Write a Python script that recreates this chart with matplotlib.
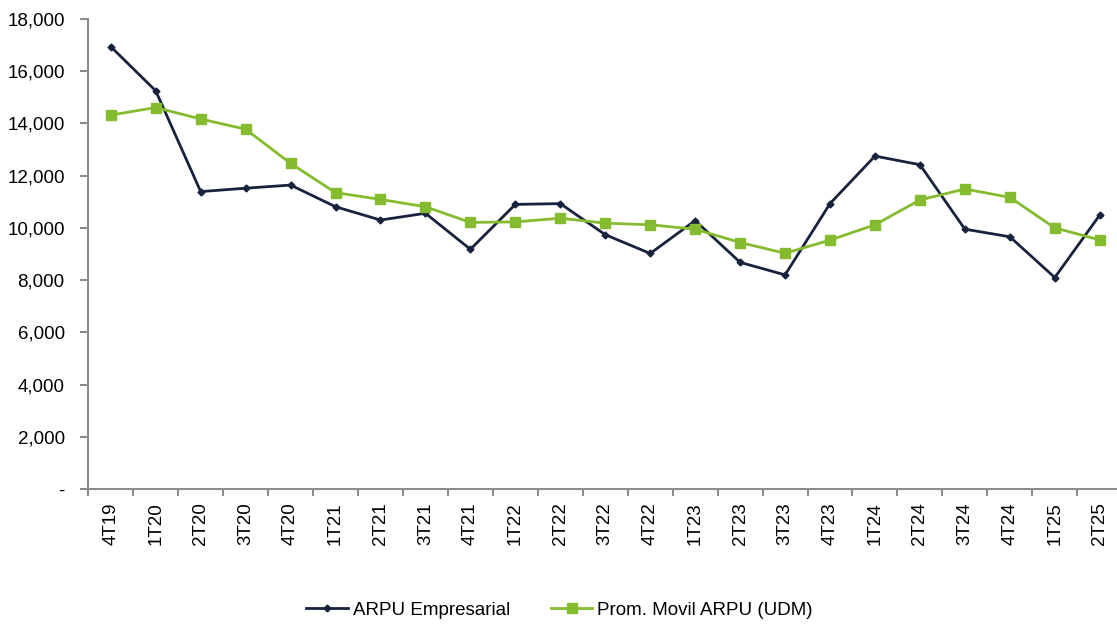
import matplotlib.pyplot as plt
from matplotlib.ticker import FixedLocator, FuncFormatter

plt.rcParams['font.family'] = ['Liberation Sans', 'DejaVu Sans']

quarters = ["4T19", "1T20", "2T20", "3T20", "4T20", "1T21", "2T21", "3T21",
            "4T21", "1T22", "2T22", "3T22", "4T22", "1T23", "2T23", "3T23",
            "4T23", "1T24", "2T24", "3T24", "4T24", "1T25", "2T25"]
arpu_empresarial = [16940, 15250, 11390, 11520, 11640, 10810, 10300, 10560,
                    9180, 10900, 10930, 9740, 9020, 10280, 8680, 8200,
                    10930, 12750, 12420, 9950, 9660, 8100, 10490]
prom_movil_arpu = [14320, 14610, 14170, 13780, 12470, 11350, 11090, 10810,
                   10210, 10230, 10370, 10180, 10120, 9950, 9440, 9030,
                   9530, 10120, 11070, 11490, 11170, 10000, 9540]

navy = "#17233d"
green = "#84bb2f"
grey = "#8c8c8c"
fs = 13.5

fig = plt.figure(figsize=(11.17, 6.24), dpi=100)
# axes runs a few pixels past the right edge, as in the source
ax = fig.add_axes([88.3 / 1117, 1 - 489 / 624, 1033.9 / 1117, 470 / 624])

x = list(range(len(quarters)))
ax.plot(x, arpu_empresarial, color=navy, lw=2.0, marker="D", ms=3.5,
        label="ARPU Empresarial")
ax.plot(x, prom_movil_arpu, color=green, lw=2.0, marker="s", ms=6.5,
        label="Prom. Movil ARPU (UDM)")

ax.set_xlim(-0.5, len(quarters) - 0.5)
ax.set_ylim(0, 18000)

# category boundaries carry the tick marks, centres carry the labels
ax.xaxis.set_major_locator(FixedLocator([i - 0.5 for i in range(len(quarters) + 1)]))
ax.xaxis.set_major_formatter(FuncFormatter(lambda v, p: ""))
ax.set_xticks(x, quarters, minor=True, rotation=90)
ax.tick_params(axis="x", which="major", length=5, width=1.5, color=grey)
ax.tick_params(axis="x", which="minor", length=0, pad=9.5, labelsize=fs)

ax.set_yticks(range(0, 18001, 2000))
ax.yaxis.set_major_formatter(
    FuncFormatter(lambda v, p: "-" if v == 0 else f"{int(v):,}"))
ax.tick_params(axis="y", length=6, width=1.5, color=grey, pad=11,
               labelsize=fs)

for side in ["top", "right"]:
    ax.spines[side].set_visible(False)
for side in ["left", "bottom"]:
    ax.spines[side].set_color(grey)
    ax.spines[side].set_linewidth(1.5)

fig.legend(loc="center", bbox_to_anchor=(0.501, 0.022), ncol=2,
           frameon=False, fontsize=fs, handlelength=2.2,
           handletextpad=0.27, columnspacing=2.2)

fig.savefig("out.png", dpi=100)
